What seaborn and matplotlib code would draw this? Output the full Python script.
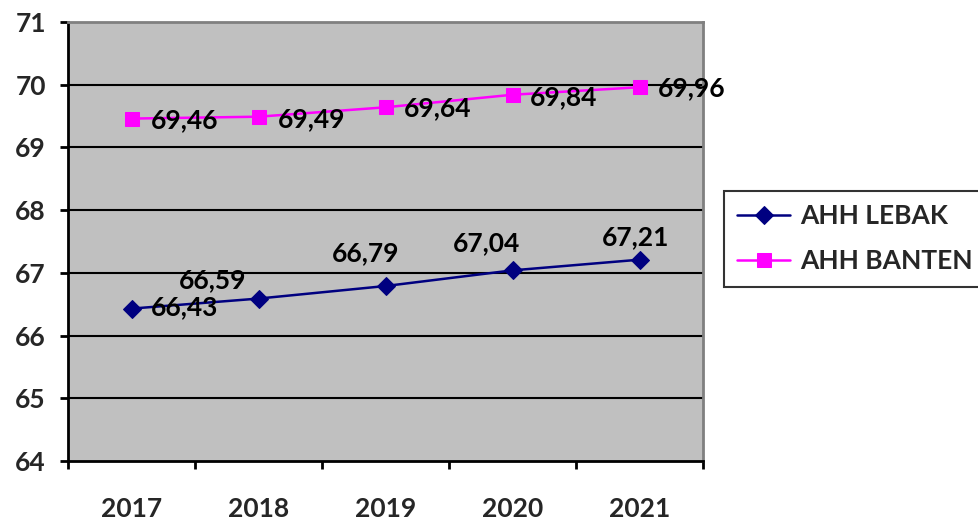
import numpy as np
import pandas as pd
import matplotlib
matplotlib.use("Agg")
import matplotlib.pyplot as plt
import seaborn as sns

YEARS = ["2017", "2018", "2019", "2020", "2021"]
AHH_LEBAK = [66.43, 66.59, 66.79, 67.04, 67.21]
AHH_BANTEN = [69.46, 69.49, 69.64, 69.84, 69.96]
Y_TICKS = [64, 65, 66, 67, 68, 69, 70, 71]

# label offsets in pixels (dx, dy), hand-placed like the original
LEBAK_OFFSETS = [(19, 1), (-80, 18), (-54, 33), (-60, 27), (-38, 23)]
BANTEN_OFFSETS = [(19, -2), (19, -2), (18, -1), (17, -2), (18, -1)]

NAVY = "#000080"
MAGENTA = "#FF00FF"
PLOT_BG = "#C0C0C0"
WEIGHT = "bold"

sns.set_theme(style="white")
plt.rcParams["font.family"] = ["Lato", "DejaVu Sans"]
plt.rcParams["font.weight"] = WEIGHT
plt.rcParams["font.style"] = "normal"

df = pd.DataFrame({
    "pos": np.arange(len(YEARS)),
    "year": YEARS,
    "AHH LEBAK": AHH_LEBAK,
    "AHH BANTEN": AHH_BANTEN,
})

fig = plt.figure(figsize=(9.79, 5.24), dpi=100)
ax = fig.add_axes([68 / 979, 1 - 461 / 524, (703 - 68) / 979, (461 - 22) / 524])
ax.set_facecolor(PLOT_BG)

for v in Y_TICKS[1:-1]:
    ax.axhline(v, color="black", lw=1.5, zorder=1)

sns.lineplot(data=df, x="pos", y="AHH LEBAK", ax=ax, color=NAVY, lw=1.8,
             marker="D", markersize=9, markeredgecolor=NAVY,
             label="AHH LEBAK", zorder=3)
sns.lineplot(data=df, x="pos", y="AHH BANTEN", ax=ax, color=MAGENTA, lw=1.8,
             marker="s", markersize=10, markeredgecolor=MAGENTA,
             label="AHH BANTEN", zorder=3)

for i, v in enumerate(AHH_LEBAK):
    dx, dy = LEBAK_OFFSETS[i]
    ax.annotate(f"{v:.2f}".replace(".", ","), (i, v), xytext=(dx, dy),
                textcoords="offset pixels", ha="left", va="center",
                fontsize=19, fontweight=WEIGHT, color="black", zorder=4)
for i, v in enumerate(AHH_BANTEN):
    dx, dy = BANTEN_OFFSETS[i]
    ax.annotate(f"{v:.2f}".replace(".", ","), (i, v), xytext=(dx, dy),
                textcoords="offset pixels", ha="left", va="center",
                fontsize=19, fontweight=WEIGHT, color="black", zorder=4,
                annotation_clip=False)

ax.set_xlim(-0.5, len(YEARS) - 0.5)
ax.set_ylim(Y_TICKS[0], Y_TICKS[-1])
ax.set_yticks(Y_TICKS)
ax.set_yticklabels([str(t) for t in Y_TICKS], fontsize=19, fontweight=WEIGHT)
ax.set_xticks(np.arange(len(YEARS) + 1) - 0.5)
ax.set_xticklabels([])
ax.set_xticks(np.arange(len(YEARS)), minor=True)
ax.set_xticklabels(YEARS, minor=True, fontsize=19, fontweight=WEIGHT)
ax.tick_params(axis="x", which="major", direction="out", length=6, width=2,
               color="black", bottom=True)
ax.tick_params(axis="x", which="minor", length=0, pad=26)
ax.tick_params(axis="y", direction="out", length=6, width=2, color="black",
               left=True, pad=10)
ax.set_xlabel("")
ax.set_ylabel("")

for side in ["left", "bottom"]:
    ax.spines[side].set_color("black")
    ax.spines[side].set_linewidth(2)
for side in ["top", "right"]:
    ax.spines[side].set_color("#808080")
    ax.spines[side].set_linewidth(2)

leg = ax.legend(loc="upper left", bbox_to_anchor=(724 / 979, 1 - 191 / 524),
                bbox_transform=fig.transFigure, frameon=True, fancybox=False,
                prop={"size": 19, "weight": WEIGHT}, handlelength=2.0,
                handletextpad=0.4, borderpad=0.5, labelspacing=0.8,
                borderaxespad=0)
leg.get_frame().set_edgecolor("black")
leg.get_frame().set_linewidth(1.5)

fig.savefig("out.png", dpi=100, facecolor="white")
